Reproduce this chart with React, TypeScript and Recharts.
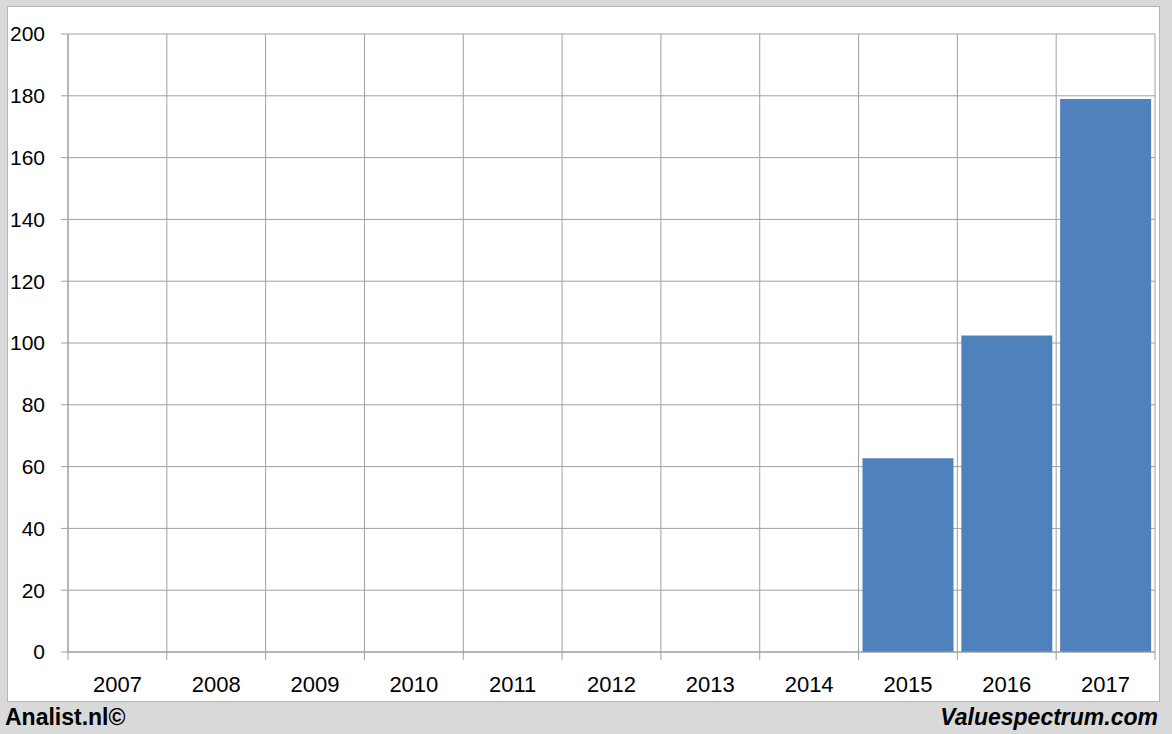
import React from "react";
import { BarChart, Bar, XAxis, YAxis, CartesianGrid } from "recharts";

const years = ["2007", "2008", "2009", "2010", "2011", "2012", "2013", "2014", "2015", "2016", "2017"];
const values: (number | null)[] = [null, null, null, null, null, null, null, null, 62.7, 102.4, 179];
const yTicks = [0, 20, 40, 60, 80, 100, 120, 140, 160, 180, 200];

const data = years.map((y, i) => ({ year: y, value: values[i] }));

const FONT = "'Liberation Sans', Arial, sans-serif";
const GRID = "#a0a0a0";
const X_TICK_MARGIN = 24;
const X_TICK_LEN = 8;

const boundaries = (props: any) => {
  const o = props.offset || {};
  const n = years.length;
  const left = o.left ?? 68;
  const w = o.width ?? 1087;
  return Array.from({ length: n + 1 }, (_, i) => left + (i * w) / n);
};

const XTick = (props: any) => {
  const { x, y, payload, width, visibleTicksCount, index } = props;
  const band = (width || 1087) / (visibleTicksCount || years.length);
  const axisY = y - X_TICK_MARGIN;
  return (
    <g>
      <line x1={x - band / 2} x2={x - band / 2} y1={axisY} y2={axisY + X_TICK_LEN} stroke={GRID} />
      {index === visibleTicksCount - 1 && (
        <line x1={x + band / 2} x2={x + band / 2} y1={axisY} y2={axisY + X_TICK_LEN} stroke={GRID} />
      )}
      <text x={x} y={y} dy="0.71em" textAnchor="middle" fill="#000" fontSize={22} fontFamily={FONT}>
        {payload.value}
      </text>
    </g>
  );
};

export default function App() {
  return (
    <div style={{ position: "absolute", left: 0, top: 0, width: 1172, height: 734, background: "#d9d9d9", fontFamily: FONT }}>
      <div style={{ position: "absolute", left: 7, top: 6, width: 1151, height: 694, background: "#fff", border: "1px solid #b5b5b5" }} />
      <div style={{ position: "absolute", left: 0, top: 0 }}>
        <BarChart width={1172} height={734} data={data} margin={{ top: 34, right: 17, left: 8, bottom: 52 }} barCategoryGap="4%">
          <CartesianGrid stroke={GRID} strokeWidth={1} verticalCoordinatesGenerator={boundaries} />
          <XAxis dataKey="year" tickLine={false} axisLine={{ stroke: GRID }} tickSize={0} tickMargin={X_TICK_MARGIN} height={30} interval={0} tick={<XTick />} />
          <YAxis domain={[0, 200]} ticks={yTicks} width={60} tickSize={7} tickMargin={16} axisLine={{ stroke: GRID }} tickLine={{ stroke: GRID }} tick={{ fill: "#000", fontSize: 21, fontFamily: FONT }} />
          <Bar dataKey="value" fill="#4f81bd" isAnimationActive={false} />
        </BarChart>
      </div>
      <div style={{ position: "absolute", left: 5, top: 702, fontSize: 23, fontWeight: "bold", color: "#000", lineHeight: "30px" }}>Analist.nl©</div>
      <div style={{ position: "absolute", right: 14, top: 702, fontSize: 23, fontWeight: "bold", fontStyle: "italic", color: "#000", lineHeight: "30px" }}>Valuespectrum.com</div>
    </div>
  );
}
